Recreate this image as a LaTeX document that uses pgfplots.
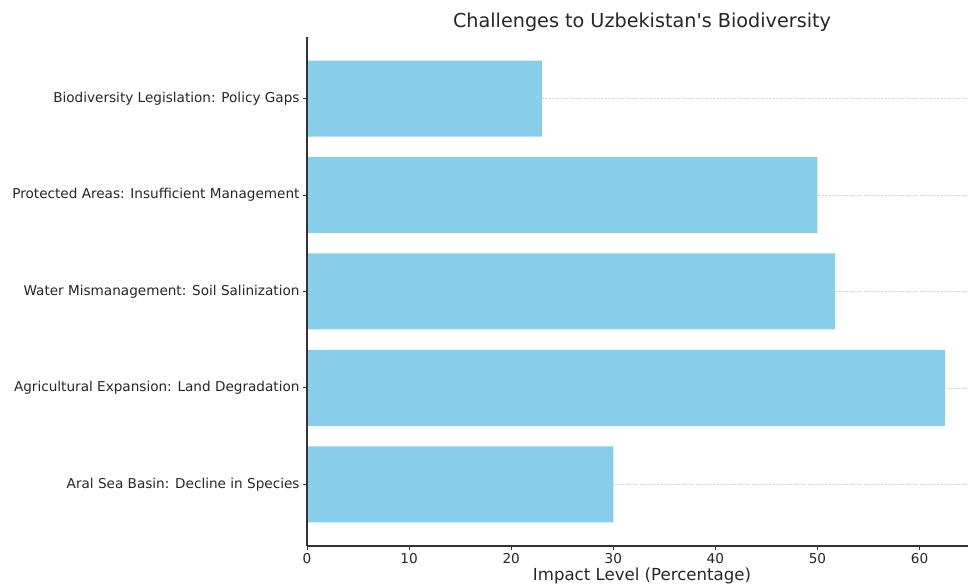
\documentclass[border=0pt]{standalone}
\usepackage{pgfplots}
\pgfplotsset{compat=1.18}
\usepackage{fontspec}
\setmainfont{DejaVu Sans}
\definecolor{skyblue}{HTML}{87CEEB}
\definecolor{spine}{HTML}{333333}
\begin{document}
\begin{tikzpicture}[x=1pt,y=1pt]
\useasboundingbox (-307,-40) rectangle (661,546);
\begin{axis}[
  at={(0,0)}, anchor=south west,
  scale only axis, width=670pt, height=509pt,
  xbar, bar width=76pt, bar shift=0pt,
  xmin=0, xmax=65.625, ymin=-0.64, ymax=4.64,
  axis x line*=bottom, axis y line*=left,
  axis line style={spine, line width=1.3pt},
  every outer x axis line/.append style={-}, every outer y axis line/.append style={-},
  ytick={0,1,2,3,4},
  yticklabels={Aral Sea Basin: Decline in Species, Agricultural Expansion: Land Degradation, Water Mismanagement: Soil Salinization, Protected Areas: Insufficient Management, Biodiversity Legislation: Policy Gaps},
  xtick={0,10,20,30,40,50,60},
  tick align=outside, major tick length=4pt,
  tick style={spine, line width=0.8pt},
  ymajorgrids, major grid style={gray!35, dash pattern=on 2pt off 1.5pt, line width=0.5pt},
  ticklabel style={font=\fontsize{13.6}{15}\selectfont, text=black!85},
  /pgf/number format/assume math mode=true,
  xlabel={Impact Level (Percentage)},
  xlabel style={font=\fontsize{16.6}{19}\selectfont, text=black!85, yshift=2.5pt},
  title={Challenges to Uzbekistan\textquotesingle s Biodiversity},
  title style={font=\fontsize{19.2}{21}\selectfont, text=black!85, yshift=-4pt},
  clip=false,
]
\addplot[fill=skyblue, draw=none] coordinates {(30,0) (62.5,1) (51.7,2) (50,3) (23,4)};
\draw[spine, line width=1.3pt] (axis cs:0,-0.64) -- (axis cs:0,4.64);
\end{axis}
\end{tikzpicture}
\end{document}
